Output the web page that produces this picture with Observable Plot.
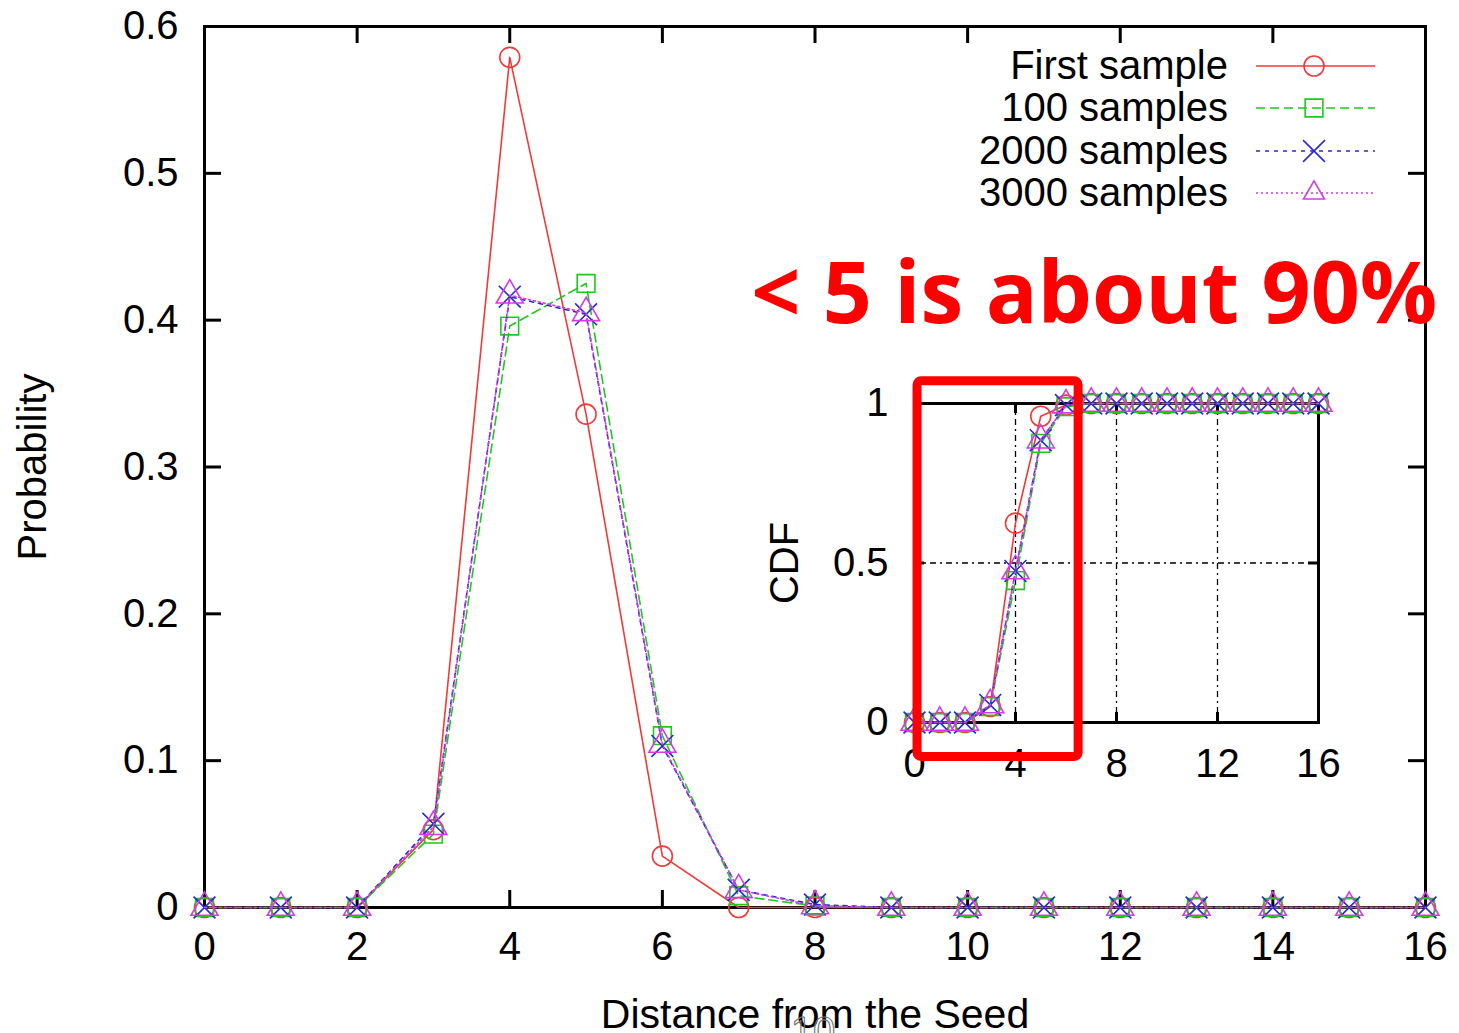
<!DOCTYPE html>
<html><head><meta charset="utf-8">
<script src="https://cdn.jsdelivr.net/npm/d3@7"></script>
<script src="https://cdn.jsdelivr.net/npm/@observablehq/plot@0.6"></script>
<style>
html,body{margin:0;padding:0;background:#fff;}
#wrap{position:relative;width:1459px;height:1033px;overflow:hidden;background:#fff;}
#wrap svg{position:absolute;}
</style></head><body><div id="wrap"></div>
<script>
// ---------- data ----------
const distances = [0,1,2,3,4,5,6,7,8,9,10,11,12,13,14,15,16];
const seriesNames = ["First sample","100 samples","2000 samples","3000 samples"];
const probFirst = [0,0,0,0.053,0.579,0.336,0.035,0.000,0,0,0,0,0,0,0,0,0];
const prob100   = [0,0,0,0.050,0.396,0.425,0.117,0.008,0.001,0,0,0,0,0,0,0,0];
const prob2000  = [0,0,0,0.057,0.416,0.404,0.110,0.012,0.002,0,0,0,0,0,0,0,0];
const prob3000  = [0,0,0,0.055,0.417,0.405,0.111,0.012,0.001,0,0,0,0,0,0,0,0];
const cdfFirst  = [0,0,0,0.05,0.625,0.96,0.995,1,1,1,1,1,1,1,1,1,1];
const cdf100    = [0,0,0,0.05,0.445,0.875,0.99,1,1,1,1,1,1,1,1,1,1];
const cdf2000   = [0,0,0,0.055,0.475,0.885,0.995,1,1,1,1,1,1,1,1,1,1];
const cdf3000   = [0,0,0,0.055,0.475,0.885,0.995,1,1,1,1,1,1,1,1,1,1];
const mainXTicks = [0,2,4,6,8,10,12,14,16];
const mainYTicks = [0,0.1,0.2,0.3,0.4,0.5,0.6];
const insetXTicks = [0,4,8,12,16];
const insetYTicks = [0,0.5,1];
const insetGridX = [4,8,12];
const insetGridY = [0.5];
const annotationText = ["< 5 is about 90%"];
const highlightBox = [{x1:0.12, x2:6.5, y1:-0.108, y2:1.07}];
const xLabel = "Distance from the Seed";
const yLabel = "Probability";
const insetYLabel = "CDF";
const pageNumber = ["10"];

// ---------- styles ----------
const styles = [
  {color:"#f03a3a", dash:null,  symbol:"circle"},
  {color:"#1fc81f", dash:"9,5", symbol:"square"},
  {color:"#2a2ad0", dash:"4,5", symbol:"times"},
  {color:"#d23ce6", dash:"2,3", symbol:"triangle"}
];
const probs = [probFirst, prob100, prob2000, prob3000];
const cdfs = [cdfFirst, cdf100, cdf2000, cdf3000];
const rowsOf = arr => distances.map((d,i) => ({x:d, y:arr[i]}));
const font = "'Liberation Sans', Arial, sans-serif";

function seriesMarks(arrs){
  const m = [];
  arrs.forEach((arr,k) => {
    const s = styles[k], rows = rowsOf(arr);
    m.push(Plot.line(rows, {x:"x", y:"y", stroke:s.color, strokeWidth:1.6, strokeDasharray:s.dash}));
    m.push(Plot.dot(rows, {x:"x", y:"y", stroke:s.color, symbol:()=>s.symbol, r:10, strokeWidth:1.6, fill:"none"}));
  });
  return m;
}

// ---------- main chart ----------
const W = 1459, H = 1033;
const mL = 204, mR = 34, mT = 26, mB = 126;
const frameW = W - mL - mR, frameH = H - mT - mB;
const tl = 17;
const main = Plot.plot({
  width: W, height: H,
  marginLeft: mL, marginRight: mR, marginTop: mT, marginBottom: mB,
  x: {domain:[0,16]}, y: {domain:[0,0.6]},
  style: {background:"white", fontFamily:font, fontSize:"40px", color:"black"},
  marks: [
    Plot.axisY(mainYTicks, {anchor:"left", tickSize:0, tickPadding:26, tickFormat:d => d===0 ? "0" : d.toFixed(1), label:null}),
    Plot.axisX(mainXTicks, {anchor:"bottom", tickSize:0, tickPadding:24, label:null}),
    Plot.tickX(mainXTicks, {x:d=>d, insetTop:frameH-tl, strokeWidth:3}),
    Plot.tickX(mainXTicks, {x:d=>d, insetBottom:frameH-tl, strokeWidth:3}),
    Plot.tickY(mainYTicks, {y:d=>d, insetRight:frameW-tl, strokeWidth:3}),
    Plot.tickY(mainYTicks, {y:d=>d, insetLeft:frameW-tl, strokeWidth:3}),
    Plot.frame({strokeWidth:3}),
    ...seriesMarks(probs),
    Plot.text([yLabel], {frameAnchor:"left", textAnchor:"middle", dx:-171, rotate:-90}),
    Plot.text([xLabel], {frameAnchor:"bottom", dy:120, lineAnchor:"bottom", fontSize:41}),
    Plot.text(pageNumber, {frameAnchor:"bottom", dx:-2, dy:109, lineAnchor:"top", fill:"none", stroke:"#777", strokeWidth:1.2}),
    Plot.text(annotationText, {x:()=>11.66, y:()=>0.398, textAnchor:"middle", lineAnchor:"bottom",
      fill:"#ff0000", fontWeight:"bold", fontFamily:"'Open Sans', 'Noto Sans', sans-serif", fontSize:86})
  ]
});
main.style.left = "0px"; main.style.top = "0px";
document.getElementById("wrap").appendChild(main);

// legend (inside main chart, top-right)
const svg = d3.select(main);
const lg = svg.append("g");
const symMap = {circle:d3.symbolCircle, square:d3.symbolSquare, times:d3.symbolTimes, triangle:d3.symbolTriangle2};
const rowY = [66,108,151,193];
seriesNames.forEach((name,k) => {
  const s = styles[k], y = rowY[k];
  lg.append("text").attr("x",1228).attr("y",y).attr("dy","0.32em").attr("text-anchor","end")
    .attr("font-family",font).attr("font-size",40).attr("fill","black").text(name);
  lg.append("line").attr("x1",1256).attr("x2",1375).attr("y1",y).attr("y2",y)
    .attr("stroke",s.color).attr("stroke-width",1.6).attr("stroke-dasharray",s.dash);
  lg.append("path").attr("d", d3.symbol(symMap[s.symbol], Math.PI*100)())
    .attr("transform",`translate(1314,${y})`).attr("fill","none").attr("stroke",s.color).attr("stroke-width",1.6);
});

// ---------- inset ----------
const iW = 720, iH = 460, iL = 174, iT = 63, iR = 142, iB = 78;
const ifW = iW - iL - iR, ifH = iH - iT - iB;
const itl = 10;
const inset = Plot.plot({
  width: iW, height: iH,
  marginLeft: iL, marginRight: iR, marginTop: iT, marginBottom: iB,
  x: {domain:[0,16]}, y: {domain:[0,1]},
  style: {background:"transparent", fontFamily:font, fontSize:"40px", color:"black", overflow:"visible"},
  marks: [
    Plot.ruleX(insetGridX, {strokeDasharray:"6,4,2,4", strokeWidth:1.3}),
    Plot.ruleY(insetGridY, {strokeDasharray:"6,4,2,4", strokeWidth:1.3}),
    Plot.axisY(insetYTicks, {anchor:"left", tickSize:0, tickPadding:26, tickFormat:d => String(d), label:null}),
    Plot.axisX(insetXTicks, {anchor:"bottom", tickSize:0, tickPadding:26, label:null}),
    Plot.tickX(insetXTicks, {x:d=>d, insetTop:ifH-itl, strokeWidth:3}),
    Plot.tickX(insetXTicks, {x:d=>d, insetBottom:ifH-itl, strokeWidth:3}),
    Plot.tickY(insetYTicks, {y:d=>d, insetRight:ifW-itl, strokeWidth:3}),
    Plot.tickY(insetYTicks, {y:d=>d, insetLeft:ifW-itl, strokeWidth:3}),
    Plot.frame({strokeWidth:3}),
    ...seriesMarks(cdfs),
    Plot.text([insetYLabel], {frameAnchor:"left", textAnchor:"middle", dx:-129, rotate:-90}),
    Plot.rect(highlightBox, {x1:"x1", x2:"x2", y1:"y1", y2:"y2", fill:"none", stroke:"#ff0000", strokeWidth:9, rx:4})
  ]
});
inset.style.left = "740px"; inset.style.top = "340px";
document.getElementById("wrap").appendChild(inset);
</script></body></html>
